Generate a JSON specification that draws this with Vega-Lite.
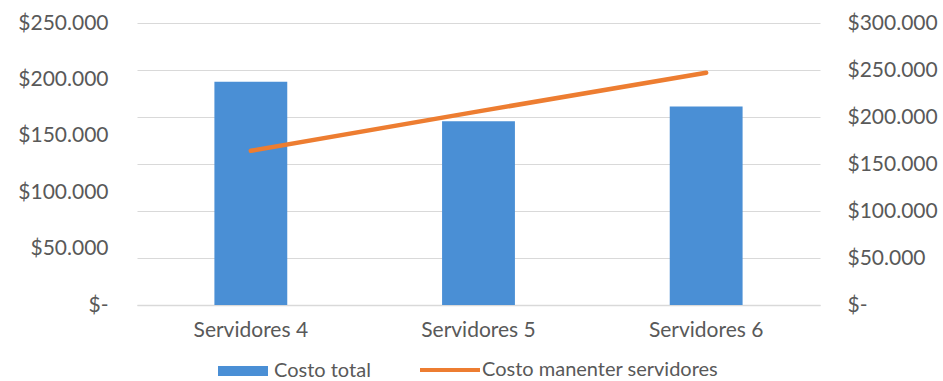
{
  "$schema": "https://vega.github.io/schema/vega-lite/v6.json",
  "width": 683,
  "height": 282,
  "autosize": "none",
  "padding": {"left": 137, "top": 23, "right": 123, "bottom": 76},
  "background": "white",
  "config": {
    "view": {"stroke": null},
    "font": "Lato",
    "axis": {"labelFont": "Lato", "labelColor": "#595959", "labelFontSize": 21, "ticks": false, "domain": false, "title": null},
    "legend": {"labelFont": "Lato", "labelColor": "#595959", "labelFontSize": 20, "labelLimit": 400}
  },
  "data": {
    "values": [
      {"servidor": "Servidores  4", "costo_total": 198000, "costo_mantener": 164000},
      {"servidor": "Servidores  5", "costo_total": 163000, "costo_mantener": 206000},
      {"servidor": "Servidores  6", "costo_total": 176000, "costo_mantener": 247000}
    ]
  },
  "encoding": {
    "x": {
      "field": "servidor",
      "type": "nominal",
      "sort": null,
      "scale": {"paddingInner": 0.68, "paddingOuter": 0.34},
      "axis": {"labelAngle": 0, "labelPadding": 14, "labelFontSize": 21, "domain": true, "domainColor": "#d9d9d9", "domainWidth": 1.5, "grid": false}
    }
  },
  "layer": [
    {
      "mark": {"type": "bar"},
      "encoding": {
        "y": {
          "field": "costo_total",
          "type": "quantitative",
          "scale": {"domain": [0, 250000], "nice": false},
          "axis": {
            "orient": "left",
            "values": [0, 50000, 100000, 150000, 200000, 250000],
            "grid": false,
            "labelPadding": 29,
            "labelExpr": "datum.value == 0 ? '$-  ' : '$' + replace(format(datum.value, ','), regexp(',', 'g'), '.')"
          }
        },
        "color": {
          "datum": "Costo total",
          "type": "nominal",
          "scale": {"domain": ["Costo total"], "range": ["#4a8fd5"]},
          "legend": {
            "title": null,
            "orient": "none",
            "legendX": 81,
            "legendY": 323,
            "symbolType": "M-1,-0.2H1V0.2H-1Z",
            "symbolSize": 2500,
            "symbolStrokeWidth": 0,
            "labelOffset": 6
          }
        }
      }
    },
    {
      "mark": {"type": "line", "strokeWidth": 4.5, "strokeCap": "round"},
      "encoding": {
        "y": {
          "field": "costo_mantener",
          "type": "quantitative",
          "scale": {"domain": [0, 300000], "nice": false},
          "axis": {
            "orient": "right",
            "values": [0, 50000, 100000, 150000, 200000, 250000, 300000],
            "grid": true,
            "gridColor": "#d9d9d9",
            "gridWidth": 1,
            "labelPadding": 27,
            "labelExpr": "datum.value == 0 ? '$-' : '$' + replace(format(datum.value, ','), regexp(',', 'g'), '.')"
          }
        },
        "stroke": {
          "datum": "Costo manenter servidores",
          "type": "nominal",
          "scale": {"domain": ["Costo manenter servidores"], "range": ["#ed7d31"]},
          "legend": {
            "title": null,
            "orient": "none",
            "legendX": 281,
            "legendY": 315,
            "symbolType": "stroke",
            "symbolSize": 3600,
            "symbolStrokeWidth": 4,
            "labelOffset": 0
          }
        }
      }
    }
  ],
  "resolve": {"scale": {"y": "independent"}}
}
